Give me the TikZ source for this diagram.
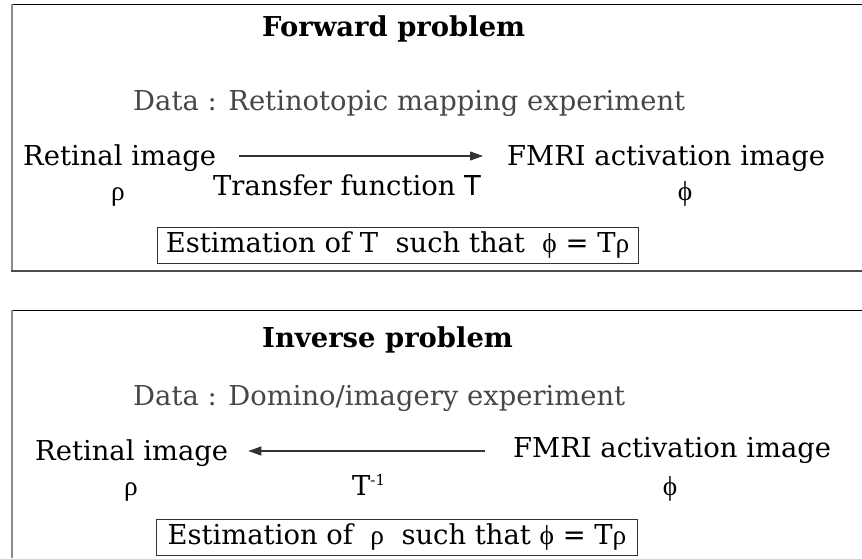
\documentclass[tikz,border=0pt]{standalone}
\usepackage{fontspec}
\setmainfont{DejaVu Serif}
\newfontfamily\gsans{DejaVu Sans}
\newfontfamily\grk{Liberation Serif}
\usetikzlibrary{arrows.meta}
\newcommand{\fs}{\fontsize{27.4}{32}\selectfont}
\tikzset{
  txt/.style={inner sep=0pt, anchor=base west, font=\fs},
  ttl/.style={txt, font=\fs\bfseries},
  dat/.style={txt, text=black!72},
  sym/.style={inner sep=0pt, anchor=base, font=\fs\grk},
  estbox/.style={draw=black!80, line width=0.8pt, minimum width=481pt, minimum height=36pt, inner sep=0pt, font=\fs},
  arr/.style={draw=black!80, line width=1.2pt, -{Triangle[length=13pt,width=9pt]}},
  frametop/.style={draw=black, line width=1.6pt},
  frameleft/.style={draw=black!45, line width=2pt},
  framebot/.style={draw=black!70, line width=2pt}
}
\begin{document}
\begin{tikzpicture}[x=1pt,y=-1pt]
\useasboundingbox (0,0) rectangle (862,558);
\fill[white] (0,0) rectangle (862,558);
% top frame
\draw[frametop] (11,4.5) -- (862,4.5);
\draw[frameleft] (12,4) -- (12,271);
\draw[framebot] (11,271) -- (862,271);
% bottom frame
\draw[frametop] (11,310.5) -- (862,310.5);
\draw[frameleft] (12,310) -- (12,558);

% forward problem
\node[ttl] (t1) at (262,36) {Forward problem};
\node[dat] (d1) at (133,110) {Data : Retinotopic mapping experiment};
\node[txt] (r1) at (23,165) {Retinal image};
\node[txt] (f1) at (507,165) {FMRI activation image};
\node[sym] (rho1) at (118,200) {ρ};
\node[txt] (tf) at (213,195) {Transfer function {\gsans T}};
\node[sym] (phi1) at (685,200) {ϕ};
\node[estbox] (e1) at (397.5,245) {Estimation of T\ \ such that\ \ {\grk ϕ} {\gsans =} T{\grk ρ}};
\draw[arr] ([xshift=23pt,yshift=9pt]r1.base east) -- ([xshift=-24pt,yshift=9pt]f1.base west);

% inverse problem
\node[ttl] (t2) at (262,347) {Inverse problem};
\node[dat] (d2) at (133,405) {Data : Domino/imagery experiment};
\node[txt] (r2) at (35,460) {Retinal image};
\node[txt] (f2) at (513,457) {FMRI activation image};
\node[sym] (rho2) at (131,495) {ρ};
\node[txt] (ti) at (352,495) {T\raisebox{10pt}{\fontsize{15}{17}\selectfont -1}};
\node[sym] (phi2) at (670,495) {ϕ};
\node[estbox] (e2) at (397,537) {Estimation of\ \ {\grk ρ}\ \ such that {\grk ϕ} {\gsans =} T{\grk ρ}};
\draw[arr] ([xshift=-28pt,yshift=6pt]f2.base west) -- ([xshift=20pt,yshift=9pt]r2.base east);
\end{tikzpicture}
\end{document}
